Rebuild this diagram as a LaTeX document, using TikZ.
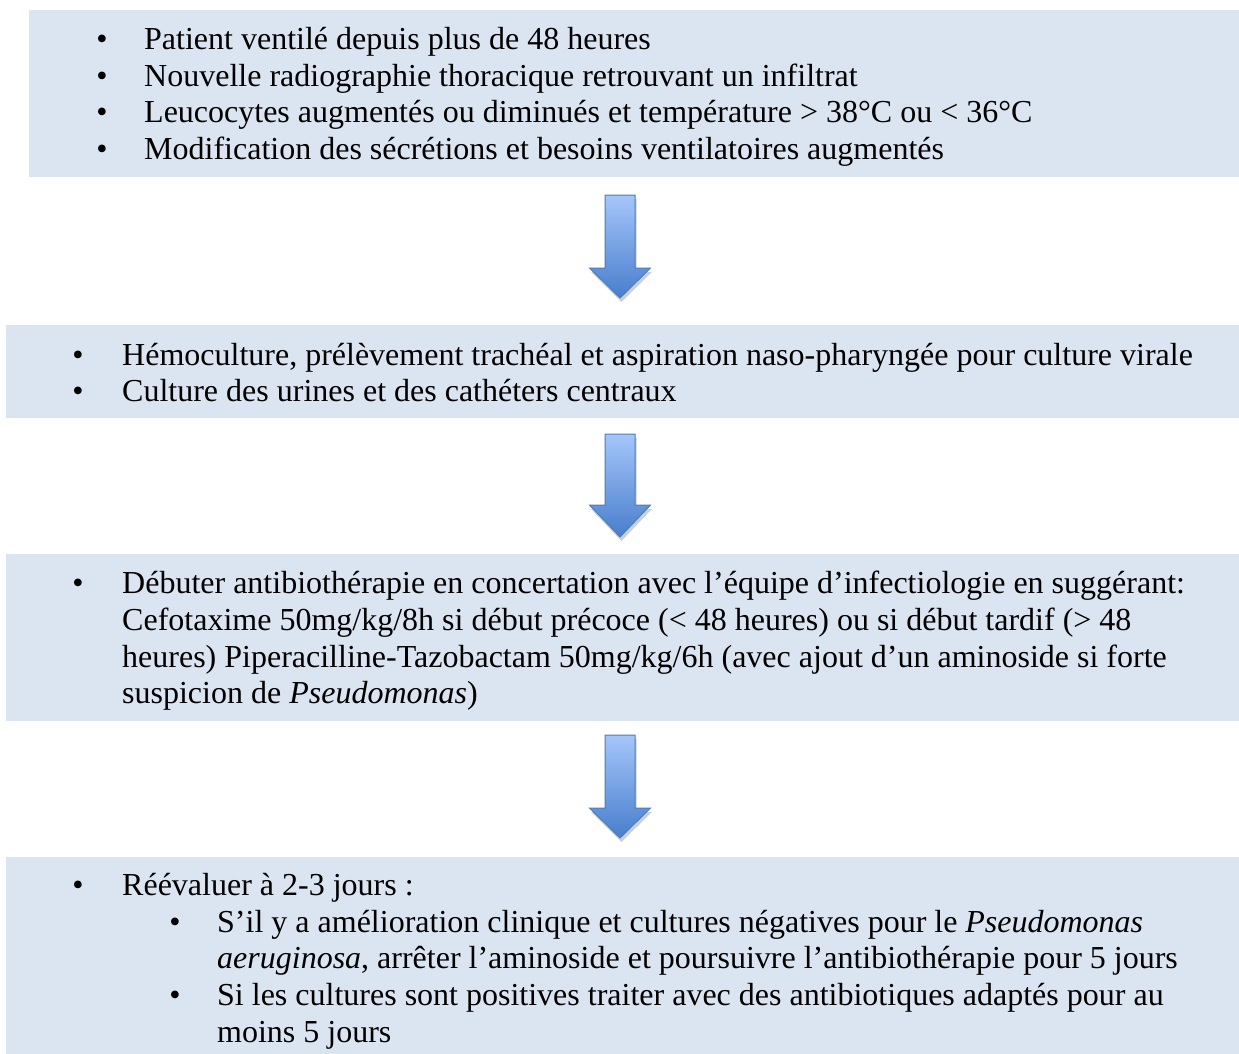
\documentclass[tikz,border=0pt]{standalone}
\usepackage{fontspec}
\setmainfont{Liberation Serif}
\definecolor{boxfill}{RGB}{219,229,241}
\definecolor{arrtop}{RGB}{165,198,250}
\definecolor{arrbot}{RGB}{72,126,205}
\definecolor{arrline}{RGB}{74,126,187}
\newcommand\myblockarrow[5]{% #1 name, #2 x, #3 top, #4 head y, #5 tip
  \fill[gray!75,opacity=0.5] (#2-15+1.5,#3+4) -- (#2+15+1.5,#3+4) -- (#2+15+1.5,#4+4) -- (#2+30.5+1.5,#4+4) -- (#2+1.5,#5+4) -- (#2-30.5+1.5,#4+4) -- (#2-15+1.5,#4+4) -- cycle;
  \path[arrowbody] (#2-15,#3) -- (#2+15,#3) -- (#2+15,#4) -- (#2+30.5,#4) -- (#2,#5) -- (#2-30.5,#4) -- (#2-15,#4) -- cycle;
  \coordinate (#1) at (#2,#5);
}
\begin{document}
\begin{tikzpicture}[x=1pt,y=-1pt,
  box/.style={fill=boxfill, draw=none, inner sep=0pt},
  txt/.style={anchor=base west, inner sep=0pt, font=\fontsize{32}{36.8}\selectfont},
  bul/.style={anchor=base, inner sep=0pt, font=\fontsize{32}{36.8}\selectfont},
  arrowbody/.style={top color=arrtop, bottom color=arrbot, draw=arrline, line width=1pt, line join=miter}
]
\useasboundingbox (0,0) rectangle (1239,1054);
% boxes
\node[box, minimum width=1210pt, minimum height=167pt] (b1) at (634,93.5) {};
\node[box, minimum width=1233pt, minimum height=93pt] (b2) at (622.5,371.5) {};
\node[box, minimum width=1233pt, minimum height=167pt] (b3) at (622.5,637.5) {};
\node[box, minimum width=1233pt, minimum height=197pt] (b4) at (622.5,955.5) {};

% arrows between boxes
\myblockarrow{a1}{620}{195}{268}{298}
\myblockarrow{a2}{620}{434}{505}{537}
\myblockarrow{a3}{620}{735}{808}{838}

% box 1 text
\node[bul] (p1) at (102,50) {•};
\node[txt] (t1) at (144,50) {Patient ventilé depuis plus de 48 heures};
\node[bul] (p2) at (102,87) {•};
\node[txt] (t2) at (144,87) {Nouvelle radiographie thoracique retrouvant un infiltrat};
\node[bul] (p3) at (102,123) {•};
\node[txt] (t3) at (144,123) {Leucocytes augmentés ou diminués et température > 38°C ou < 36°C};
\node[bul] (p4) at (102,160) {•};
\node[txt] (t4) at (144,160) {Modification des sécrétions et besoins ventilatoires augmentés};

% box 2 text
\node[bul] (q1) at (78,365) {•};
\node[txt] (u1) at (122,365) {Hémoculture, prélèvement trachéal et aspiration naso-pharyngée pour culture virale};
\node[bul] (q2) at (78,401) {•};
\node[txt] (u2) at (122,401) {Culture des urines et des cathéters centraux};

% box 3 text
\node[bul] (r1) at (78,593) {•};
\node[txt] (v1) at (122,593) {Débuter antibiothérapie en concertation avec l’équipe d’infectiologie en suggérant:};
\node[txt] (v2) at (122,630) {Cefotaxime 50mg/kg/8h si début précoce (< 48 heures) ou si début tardif (> 48};
\node[txt] (v3) at (122,667) {heures) Piperacilline-Tazobactam 50mg/kg/6h (avec ajout d’un aminoside si forte};
\node[txt] (v4) at (122,703) {suspicion de \textit{Pseudomonas})};

% box 4 text
\node[bul] (s1) at (78,895) {•};
\node[txt] (w1) at (122,895) {Réévaluer à 2-3 jours :};
\node[bul] (s2) at (175,932) {•};
\node[txt] (w2) at (217,932) {S’il y a amélioration clinique et cultures négatives pour le \textit{Pseudomonas}};
\node[txt] (w3) at (217,968) {\textit{aeruginosa}, arrêter l’aminoside et poursuivre l’antibiothérapie pour 5 jours};
\node[bul] (s3) at (175,1005) {•};
\node[txt] (w4) at (217,1005) {Si les cultures sont positives traiter avec des antibiotiques adaptés pour au};
\node[txt] (w5) at (217,1042) {moins 5 jours};
\end{tikzpicture}
\end{document}
